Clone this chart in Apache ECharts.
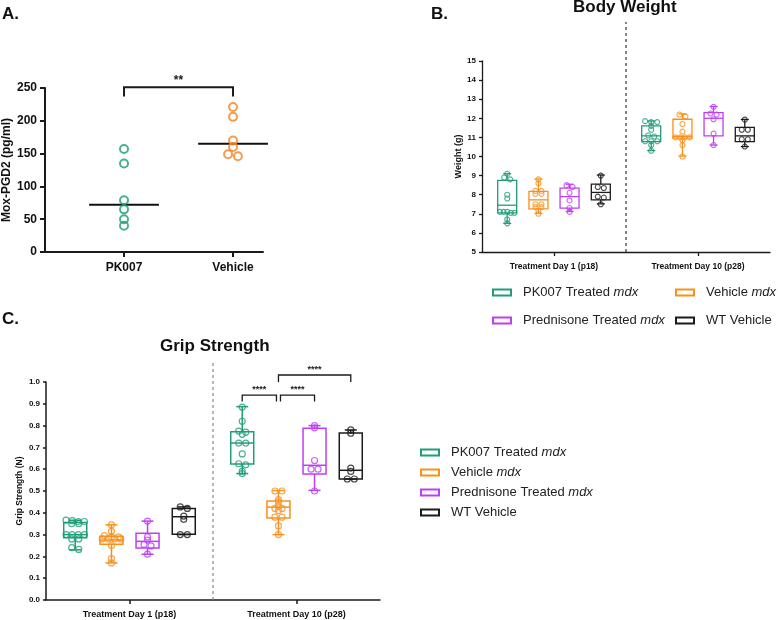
<!DOCTYPE html>
<html>
<head>
<meta charset="utf-8">
<script src="https://cdn.jsdelivr.net/npm/echarts@6/dist/echarts.min.js"></script>
<style>
  html, body { margin: 0; padding: 0; background: #fff; }
  #main { width: 778px; height: 620px; }
</style>
</head>
<body>
<div id="main"></div>
<script>
// panel A: Mox-PGD2 per mouse
const moxGroups = ['PK007', 'Vehicle']
const moxPK007 = [157, 135, 79, 65, 50, 40]
const moxVehicle = [221, 206, 170, 160, 149, 146]

// panels B and C share the groups and days
const groups = ['PK007 Treated mdx', 'Vehicle mdx', 'Prednisone Treated mdx', 'WT Vehicle']
const days = ['Treatment Day 1 (p18)', 'Treatment Day 10 (p28)']

// box stats: [min, Q1, median, Q3, max]
const weightBoxDay1 = [[6.5, 7.05, 7.45, 8.75, 9.1], [7.02, 7.26, 7.73, 8.17, 8.82], [7.12, 7.3, 7.9, 8.34, 8.55], [7.52, 7.73, 8.12, 8.55, 9.03]]
const weightBoxDay10 = [[10.31, 10.78, 11.08, 11.6, 11.86], [10.02, 10.96, 11.05, 11.95, 12.23], [10.6, 11.08, 12.0, 12.3, 12.62], [10.52, 10.78, 11.08, 11.53, 11.94]]
const weightPtsDay1 = [
  [9.1, 8.9, 8.8, 8.0, 7.8, 7.1, 7.1, 7.1, 7.05, 7.05, 6.7, 6.5],
  [8.8, 8.6, 8.2, 8.2, 8.05, 8.05, 7.5, 7.5, 7.35, 7.35, 7.15, 7.0],
  [8.5, 8.4, 8.1, 7.7, 7.3, 7.1],
  [9.0, 8.4, 8.35, 7.9, 7.85, 7.5]
]
const weightPtsDay10 = [
  [11.85, 11.8, 11.8, 11.6, 11.4, 11.1, 11.05, 10.8, 10.8, 10.8, 10.6, 10.3],
  [12.2, 12.1, 11.7, 11.3, 11.0, 11.0, 11.0, 11.0, 10.85, 10.6, 10.0],
  [12.6, 12.25, 12.2, 11.95, 11.2, 10.6],
  [11.93, 11.4, 11.4, 10.9, 10.9, 10.52]
]

const gripBoxDay1 = [[0.23, 0.285, 0.30, 0.355, 0.366], [0.17, 0.256, 0.275, 0.292, 0.345], [0.21, 0.238, 0.269, 0.306, 0.362], [0.30, 0.302, 0.382, 0.42, 0.427]]
const gripBoxDay10 = [[0.58, 0.624, 0.72, 0.772, 0.887], [0.30, 0.376, 0.426, 0.454, 0.502], [0.503, 0.578, 0.618, 0.788, 0.80], [0.555, 0.555, 0.595, 0.766, 0.78]]
const gripPtsDay1 = [
  [0.366, 0.364, 0.36, 0.36, 0.35, 0.35, 0.30, 0.30, 0.30, 0.30, 0.28, 0.28, 0.24, 0.232],
  [0.345, 0.315, 0.295, 0.29, 0.29, 0.28, 0.28, 0.28, 0.28, 0.25, 0.19, 0.17],
  [0.362, 0.29, 0.275, 0.255, 0.248, 0.21],
  [0.427, 0.42, 0.385, 0.37, 0.30, 0.30]
]
const gripPtsDay10 = [
  [0.885, 0.82, 0.775, 0.77, 0.76, 0.72, 0.72, 0.67, 0.625, 0.62, 0.59, 0.58],
  [0.50, 0.50, 0.46, 0.45, 0.43, 0.42, 0.42, 0.41, 0.38, 0.38, 0.34, 0.30],
  [0.80, 0.79, 0.64, 0.60, 0.60, 0.50],
  [0.78, 0.765, 0.605, 0.59, 0.555, 0.555]
]

// significance brackets
const moxSig = [{ from: 0, to: 1, top: 251, drop: 237, text: '**' }]
const gripSig = [
  { from: 0, to: 1, top: 0.94, drop: 0.91, text: '****', inset: [0, -0.012] },
  { from: 1, to: 2, top: 0.94, drop: 0.91, text: '****', inset: [0.012, 0] },
  { from: 1, to: 3, top: 1.032, drop: 1.0, text: '****', inset: [0, 0] }
]

const FONT = "'Liberation Sans', Arial, sans-serif"
const colors = ['#1f9e78', '#f7911d', '#c03ef2', '#1b1b1b']
const moxColors = ['#1a9e76', '#f5821f']
const slot = [-0.325, -0.108, 0.108, 0.325]

// spread near-equal values sideways so circles do not sit on top of each other
function swarm(values, center, tol, step, maxSpan) {
  let order = values.map((v, i) => i).sort((a, b) => values[b] - values[a])
  let out = []
  let cluster = []
  const flush = () => {
    let n = cluster.length
    let s = n > 1 ? Math.min(step, maxSpan / (n - 1)) : 0
    cluster.forEach((i, k) => out.push([center + (k - (n - 1) / 2) * s, values[i]]))
    cluster = []
  }
  order.forEach(i => {
    if (cluster.length && values[cluster[0]] - values[i] > tol) flush()
    cluster.push(i)
  })
  flush()
  return out
}

function median(arr) {
  let s = arr.slice().sort((a, b) => a - b)
  let m = Math.floor(s.length / 2)
  return s.length % 2 ? s[m] : (s[m - 1] + s[m]) / 2
}

function boxSeries(name, color, axis, data, boxW, capW, lw) {
  return {
    type: 'custom', name: name, xAxisIndex: axis, yAxisIndex: axis,
    data: data, encode: { x: 0, y: [1, 2, 3, 4, 5] }, silent: true,
    renderItem: (params, api) => {
      let x = api.value(0)
      let y = [1, 2, 3, 4, 5].map(d => api.coord([x, api.value(d)])[1])
      let cx = api.coord([x, api.value(1)])[0]
      let st = { stroke: color, lineWidth: lw, fill: 'none' }
      const seg = (x1, y1, x2, y2) => ({ type: 'line', shape: { x1, y1, x2, y2 }, style: st })
      return {
        type: 'group',
        children: [
          seg(cx, y[3], cx, y[4]),
          seg(cx, y[0], cx, y[1]),
          seg(cx - capW / 2, y[4], cx + capW / 2, y[4]),
          seg(cx - capW / 2, y[0], cx + capW / 2, y[0]),
          { type: 'rect', shape: { x: cx - boxW / 2, y: y[3], width: boxW, height: y[1] - y[3] }, style: st },
          seg(cx - boxW / 2, y[2], cx + boxW / 2, y[2])
        ]
      }
    }
  }
}

function pointSeries(name, color, axis, data, size, bw) {
  return {
    type: 'scatter', name: name, xAxisIndex: axis, yAxisIndex: axis,
    data: data, symbol: 'circle', symbolSize: size, silent: true,
    emphasis: { disabled: true },
    itemStyle: { color: 'rgba(0,0,0,0)', borderColor: color, borderWidth: bw }
  }
}

function bracketSeries(axis, list, lw, fontSize, xOf) {
  return {
    type: 'custom', xAxisIndex: axis, yAxisIndex: axis, silent: true,
    data: list.map(b => [xOf(b.from) + (b.inset ? b.inset[0] : 0), xOf(b.to) + (b.inset ? b.inset[1] : 0), b.top, b.drop]),
    encode: { x: [0, 1], y: [2, 3] },
    renderItem: (params, api) => {
      let x1 = api.value(0), x2 = api.value(1), top = api.value(2), drop = api.value(3)
      let p1 = api.coord([x1, drop]), p2 = api.coord([x1, top])
      let p3 = api.coord([x2, top]), p4 = api.coord([x2, drop])
      return {
        type: 'group',
        children: [
          { type: 'polyline', shape: { points: [p1, p2, p3, p4] }, style: { stroke: '#1a1a1a', lineWidth: lw, fill: 'none' } },
          { type: 'text', style: { x: (p2[0] + p3[0]) / 2, y: p2[1] - 1, text: list[params.dataIndex].text, align: 'center', verticalAlign: 'bottom', fontSize: fontSize, fontWeight: 'bold', fontFamily: FONT, fill: '#1a1a1a' } }
        ]
      }
    }
  }
}

function dividerSeries(axis, yBottom, yTop, color) {
  return {
    type: 'line', xAxisIndex: axis, yAxisIndex: axis, silent: true, clip: false,
    data: [[0.5, yBottom], [0.5, yTop]], symbol: 'none',
    lineStyle: { color: color, width: 1.2, type: [3, 3] }
  }
}

let series = []

// A
let moxSets = [moxPK007, moxVehicle]
moxSets.forEach((vals, i) => {
  series.push(pointSeries(moxGroups[i], moxColors[i], 0, swarm(vals, i, 4, 0.09, 0.2), 8, 2))
})
series.push({
  type: 'custom', xAxisIndex: 0, yAxisIndex: 0, silent: true,
  data: moxSets.map((vals, i) => [i, median(vals)]),
  encode: { x: 0, y: 1 },
  renderItem: (params, api) => {
    let a = api.coord([api.value(0) - 0.32, api.value(1)])
    let b = api.coord([api.value(0) + 0.32, api.value(1)])
    return { type: 'line', shape: { x1: a[0], y1: a[1], x2: b[0], y2: b[1] }, style: { stroke: '#111', lineWidth: 2 } }
  }
})
series.push(bracketSeries(0, moxSig, 2, 12, i => i))

// B and C
series.push(dividerSeries(1, 5, 17.04, '#333'))
series.push(dividerSeries(2, 0, 1.1, '#888'))
groups.forEach((g, i) => {
  series.push(boxSeries(g, colors[i], 1, [[0 + slot[i]].concat(weightBoxDay1[i]), [1 + slot[i]].concat(weightBoxDay10[i])], 19, 8, 1.3))
  series.push(boxSeries(g, colors[i], 2, [[0 + slot[i]].concat(gripBoxDay1[i]), [1 + slot[i]].concat(gripBoxDay10[i])], 23, 12, 1.5))
})
groups.forEach((g, i) => {
  let wPts = swarm(weightPtsDay1[i], slot[i], 0.12, 0.042, 0.1).concat(swarm(weightPtsDay10[i], 1 + slot[i], 0.12, 0.042, 0.1))
  let gPts = swarm(gripPtsDay1[i], slot[i], 0.01, 0.042, 0.11).concat(swarm(gripPtsDay10[i], 1 + slot[i], 0.01, 0.042, 0.11))
  series.push(pointSeries(g, colors[i], 1, wPts, 5, 1.1))
  series.push(pointSeries(g, colors[i], 2, gPts, 6, 1.2))
})
series.push(bracketSeries(2, gripSig, 1.3, 9, i => 1 + slot[i]))

const axisColor = '#1a1a1a'
function xAxisOf(grid, min, max, ticks, names, fontSize, lw, tickLen) {
  return {
    gridIndex: grid, type: 'value', min: min, max: max,
    splitLine: { show: false },
    axisLine: { show: true, onZero: false, lineStyle: { color: axisColor, width: lw } },
    axisTick: { show: true, customValues: ticks, length: tickLen, lineStyle: { color: axisColor, width: lw } },
    axisLabel: { customValues: ticks, formatter: v => names[Math.round(v)], margin: 10, fontSize: fontSize, fontWeight: 'bold', color: '#111', fontFamily: FONT }
  }
}
function yAxisOf(grid, min, max, interval, name, fontSize, nameSize, nameGap, lw, tickLen, fmt) {
  return {
    gridIndex: grid, type: 'value', min: min, max: max, interval: interval,
    name: name, nameLocation: 'middle', nameGap: nameGap,
    nameTextStyle: { fontSize: nameSize, fontWeight: 'bold', color: '#111', fontFamily: FONT },
    splitLine: { show: false },
    axisLine: { show: true, onZero: false, lineStyle: { color: axisColor, width: lw } },
    axisTick: { show: true, length: tickLen, lineStyle: { color: axisColor, width: lw } },
    axisLabel: { margin: tickLen + 3, fontSize: fontSize, fontWeight: 'bold', color: '#111', fontFamily: FONT, formatter: fmt }
  }
}

function legendText(name) {
  return name.endsWith(' mdx') ? '{n|' + name.slice(0, -3) + '}{i|mdx}' : '{n|' + name + '}'
}
const legendRich = {
  n: { fontSize: 13, lineHeight: 15, color: '#222', fontFamily: FONT, padding: [0, 0, 0, 7] },
  i: { fontSize: 13, lineHeight: 15, color: '#222', fontFamily: FONT, fontStyle: 'italic' }
}
function legendOf(left, top, names, gap) {
  return {
    left: left, top: top, orient: 'vertical', padding: 0, itemGap: gap,
    itemWidth: 18, itemHeight: 6, selectedMode: false,
    formatter: legendText,
    textStyle: { rich: legendRich },
    data: names.map(n => {
      let i = groups.indexOf(n)
      return { name: n, icon: 'rect', itemStyle: { color: '#fff', borderColor: colors[i], borderWidth: 2 } }
    })
  }
}

const titleStyle = { fontSize: 17, fontWeight: 'bold', color: '#111', fontFamily: FONT }
let option = {
  animation: false,
  backgroundColor: '#fff',
  title: [
    { text: 'A.', left: 2, top: 6, padding: 0, textStyle: titleStyle },
    { text: 'B.', left: 431, top: 6, padding: 0, textStyle: titleStyle },
    { text: 'Body Weight', left: 573, top: -1, padding: 0, textStyle: titleStyle },
    { text: 'C.', left: 2, top: 311, padding: 0, textStyle: titleStyle },
    { text: 'Grip Strength', left: 160, top: 338, padding: 0, textStyle: titleStyle }
  ],
  legend: [
    legendOf(492, 286, [groups[0], groups[2]], 15),
    legendOf(675, 286, [groups[1], groups[3]], 15),
    legendOf(420, 446, groups, 7)
  ],
  grid: [
    { left: 45, top: 88, width: 218, height: 164, containLabel: false, outerBoundsMode: 'none' },
    { left: 482, top: 61, width: 288, height: 191, containLabel: false, outerBoundsMode: 'none' },
    { left: 46, top: 382, width: 334, height: 218, containLabel: false, outerBoundsMode: 'none' }
  ],
  xAxis: [
    xAxisOf(0, -0.725, 1.275, [0, 1], moxGroups, 12, 2, 5),
    xAxisOf(1, -0.5, 1.5, [0, 1], days, 8.5, 1.3, 4),
    xAxisOf(2, -0.5, 1.5, [0, 1], days, 9, 1.5, 4)
  ],
  yAxis: [
    yAxisOf(0, 0, 250, 50, 'Mox-PGD2 (pg/ml)', 12, 12, 30, 2, 5),
    yAxisOf(1, 5, 15, 1, 'Weight (g)', 8, 9, 16, 1.3, 3),
    yAxisOf(2, 0, 1, 0.1, 'Grip Strength (N)', 8, 8.5, 22, 1.5, 3, v => v.toFixed(1))
  ],
  series: series
}

let chart = echarts.init(document.getElementById('main'), null, { renderer: 'canvas' })
chart.setOption(option)
</script>
</body>
</html>
